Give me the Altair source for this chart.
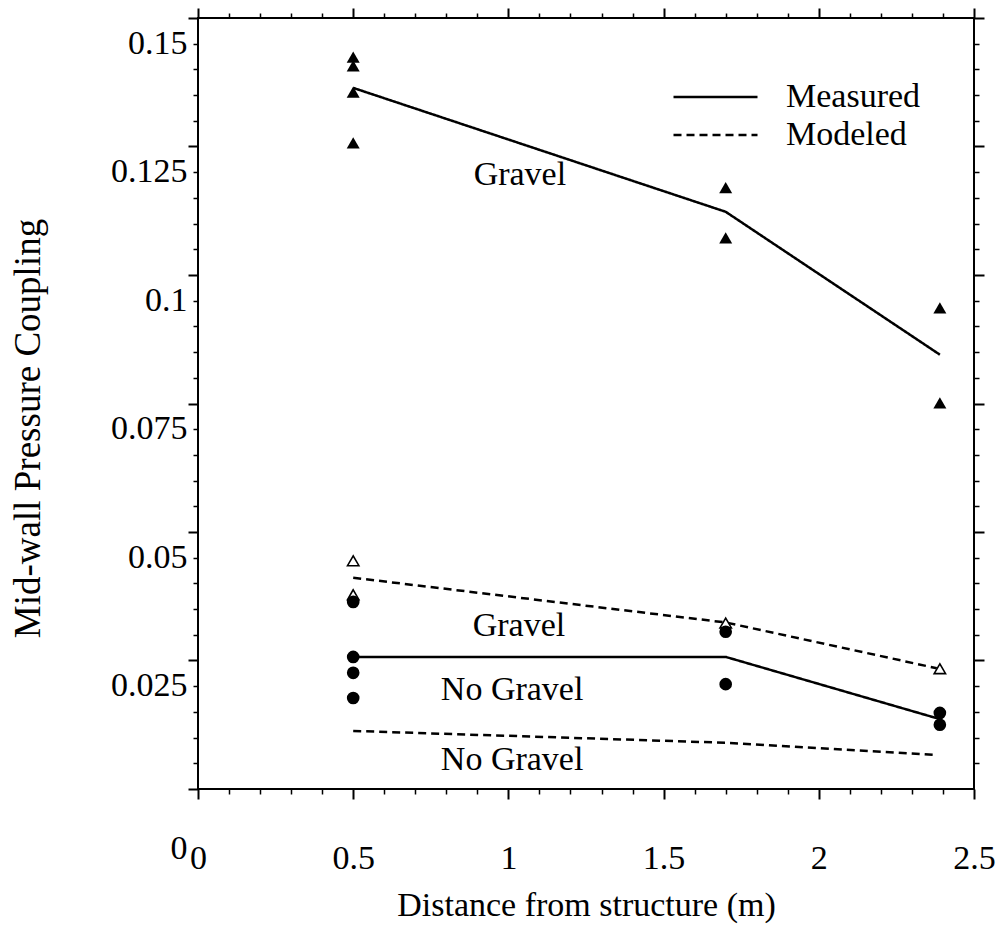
import altair as alt
import pandas as pd

FONT = "Liberation Serif"
FS = 34

# ---- data ----
meas_x = [0.5, 1.7, 2.39]
meas_gravel_line = [0.1364, 0.1123, 0.0845]
meas_nograv_line = [0.0257, 0.0257, 0.0136]

model_x = [0.5, 1.7, 2.38]
model_gravel_line = [0.0411, 0.0324, 0.0235]
model_nograv_line = [0.0113, 0.0090, 0.0066]

gravel_meas_x = [0.5, 0.5, 0.5, 0.5, 1.7, 1.7, 2.39, 2.39]
gravel_meas_y = [0.1424, 0.1407, 0.1356, 0.1257, 0.1170, 0.1072, 0.0936, 0.0751]

gravel_model_x = [0.5, 0.5, 1.7, 2.39]
gravel_model_y = [0.0444, 0.0378, 0.0323, 0.0234]

nograv_meas_x = [0.5, 0.5, 0.5, 0.5, 1.7, 1.7, 2.39, 2.39]
nograv_meas_y = [0.0364, 0.0257, 0.0226, 0.0177, 0.0306, 0.0204, 0.0148, 0.0125]

label_text = ["Gravel", "Gravel", "No Gravel", "No Gravel"]
label_x = [1.037, 1.034, 1.012, 1.012]
label_y = [0.1195, 0.0317, 0.0193, 0.0056]

x_major = [0, 0.5, 1, 1.5, 2, 2.5]
x_minor = [0.1, 0.2, 0.3, 0.4, 0.6, 0.7, 0.8, 0.9, 1.1, 1.2, 1.3, 1.4,
           1.6, 1.7, 1.8, 1.9, 2.1, 2.2, 2.3, 2.4]
y_major = [0.025, 0.05, 0.075, 0.1, 0.125, 0.15]
y_zero = [0]
y_minor = [0.005, 0.01, 0.015, 0.02, 0.03, 0.035, 0.04, 0.045, 0.055, 0.06,
           0.065, 0.07, 0.08, 0.085, 0.09, 0.095, 0.105, 0.11, 0.115, 0.12,
           0.13, 0.135, 0.14, 0.145]

# ---- tables ----
rows = []
for x, y in zip(meas_x, meas_gravel_line):
    rows.append({"x": x, "y": y, "series": "mg", "type": "Measured"})
for x, y in zip(meas_x, meas_nograv_line):
    rows.append({"x": x, "y": y, "series": "mn", "type": "Measured"})
for x, y in zip(model_x, model_gravel_line):
    rows.append({"x": x, "y": y, "series": "og", "type": "Modeled"})
for x, y in zip(model_x, model_nograv_line):
    rows.append({"x": x, "y": y, "series": "on", "type": "Modeled"})
line_df = pd.DataFrame(rows)

gm_df = pd.DataFrame({"x": gravel_meas_x, "y": gravel_meas_y})
go_df = pd.DataFrame({"x": gravel_model_x, "y": gravel_model_y})
nm_df = pd.DataFrame({"x": nograv_meas_x, "y": nograv_meas_y})
lab_df = pd.DataFrame({"x": label_x, "y": label_y, "t": label_text})

xs = alt.Scale(domain=[0, 2.5], nice=False, zero=False)
ys = alt.Scale(domain=[0, 0.15], nice=False, zero=False)


def tick_axis(orient, values, size, width=2, labels=False, **kw):
    base = dict(orient=orient, values=values, tickSize=size, tickWidth=width,
                tickColor="black", domain=False, grid=False, labels=labels,
                title=None)
    base.update(kw)
    return alt.Axis(**base)


lbl = dict(labelFont=FONT, labelFontSize=FS, labelColor="black",
           labelExpr="format(datum.value, '.3~g')", labelFlush=False,
           labelOverlap=False)

x_bottom_major = alt.Axis(
    orient="bottom", values=x_major, tickSize=10, tickWidth=2, tickColor="black",
    domain=False, grid=False, labelPadding=59, labelBaseline="middle",
    title="Distance from structure (m)", titleFont=FONT, titleFontSize=FS,
    titleFontWeight="normal", titleColor="black", titleY=116,
    titleBaseline="middle", **lbl)
y_left_major = alt.Axis(
    orient="left", values=y_major, tickSize=10, tickWidth=2, tickColor="black",
    domain=False, grid=False, labelPadding=1, labelOffset=25,
    labelBaseline="middle",
    title="Mid-wall Pressure Coupling", titleFont=FONT, titleFontSize=37,
    titleFontWeight="normal", titleColor="black", titleX=-170, titleY=410,
    titleBaseline="middle", titleAngle=-90, **lbl)

lines = alt.Chart(line_df).mark_line(color="black", strokeWidth=2.5).encode(
    x=alt.X("x:Q", scale=xs, axis=x_bottom_major),
    y=alt.Y("y:Q", scale=ys, axis=y_left_major),
    detail="series:N",
    strokeDash=alt.StrokeDash(
        "type:N",
        scale=alt.Scale(domain=["Measured", "Modeled"], range=[[1, 0], [8, 5]]),
        legend=alt.Legend(orient="none", legendX=474, legendY=60, title=None,
                          symbolType="stroke", symbolSize=7056,
                          symbolStrokeWidth=2.5, symbolStrokeColor="black",
                          clipHeight=38, rowPadding=0, padding=0,
                          labelFont=FONT, labelFontSize=FS, labelColor="black",
                          labelOffset=27, labelLimit=400)),
)


def enc(chart, xa=None, ya=None):
    return chart.encode(
        x=alt.X("x:Q", scale=xs, axis=xa),
        y=alt.Y("y:Q", scale=ys, axis=ya),
    )


pts_gm = enc(alt.Chart(gm_df).mark_point(shape="triangle-up", filled=True,
                                         color="black", size=169, opacity=1))
pts_go = enc(alt.Chart(go_df).mark_point(shape="triangle-up", filled=True,
                                         fill="white", stroke="black",
                                         strokeWidth=1.6, size=130, opacity=1))
pts_nm = enc(alt.Chart(nm_df).mark_point(shape="circle", filled=True,
                                         color="black", size=160, opacity=1))
labels = alt.Chart(lab_df).mark_text(font=FONT, fontSize=FS, color="black",
                                     align="center", baseline="middle").encode(
    x=alt.X("x:Q", scale=xs, axis=None),
    y=alt.Y("y:Q", scale=ys, axis=None),
    text="t:N",
)

ghost = alt.Chart(gm_df).mark_point(opacity=0)
g1 = enc(ghost, tick_axis("bottom", x_minor, 5, 1.5),
         tick_axis("left", y_minor, 5, 1.5))
g2 = enc(ghost, tick_axis("top", x_major, 10), tick_axis("right", y_major, 10))
g3 = enc(ghost, tick_axis("top", x_minor, 5, 1.5),
         tick_axis("right", y_minor, 5, 1.5))
g4 = enc(ghost, None,
         tick_axis("left", y_zero, 10, 2, labels=True, labelPadding=1,
                   labelOffset=59, labelBaseline="middle", **lbl))

chart = alt.layer(lines, pts_gm, pts_go, pts_nm, labels, g1, g2, g3, g4).resolve_axis(
    x="independent", y="independent"
).properties(
    width=776, height=771,
    autosize=alt.AutoSizeParams(type="none"),
    padding={"left": 198, "top": 18, "right": 26, "bottom": 150},
    background="white",
).configure_view(stroke="black", strokeWidth=2)

chart.save("out.html", embed_options={"renderer": "svg", "actions": False})
